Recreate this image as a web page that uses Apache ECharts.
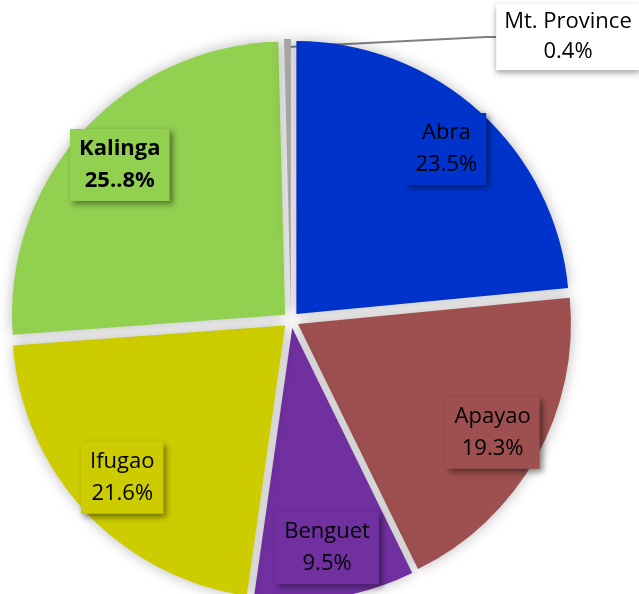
<!DOCTYPE html>
<html>
<head>
<meta charset="utf-8">
<script src="https://cdn.jsdelivr.net/npm/echarts@6/dist/echarts.min.js"></script>
<style>
  html, body { margin: 0; padding: 0; background: #ffffff; }
  #chart { width: 639px; height: 594px; }
</style>
</head>
<body>
<div id="chart"></div>
<script>
const categories = ['Abra', 'Apayao', 'Benguet', 'Ifugao', 'Kalinga', 'Mt. Province'];
const values = [23.5, 19.3, 9.5, 21.6, 25.8, 0.4];
const valueLabels = ['23.5%', '19.3%', '9.5%', '21.6%', '25..8%', '0.4%'];
const colors = ['#0033CC', '#9E5050', '#7030A0', '#CCCC00', '#92D050', '#A5A5A5'];

const FONT = '"Open Sans", sans-serif';
const CX = 291, CY = 320, R = 273;
const OUTSIDE_LABEL = 'Mt. Province';

const mainData = categories.map((name, i) => ({
  name: name,
  value: values[i],
  selected: true,
  itemStyle: { color: colors[i] }
}));

const labelData = categories.map((name, i) => {
  const isOut = name === OUTSIDE_LABEL;
  const item = {
    name: name,
    value: values[i],
    selected: !isOut,
    itemStyle: { color: 'rgba(0,0,0,0)' },
    label: {
      show: true,
      formatter: '{b}\n' + valueLabels[i],
      backgroundColor: colors[i],
      fontWeight: name === 'Kalinga' ? 'bold' : 'normal'
    },
    labelLine: { show: false }
  };
  if (isOut) {
    item.label = {
      show: true,
      position: 'outside',
      formatter: '{b}\n' + valueLabels[i],
      backgroundColor: '#ffffff',
      lineHeight: 30,
      padding: [3, 8, 3, 8],
      shadowColor: 'rgba(0,0,0,0.35)',
      shadowBlur: 6,
      shadowOffsetX: 0,
      shadowOffsetY: 3
    };
    item.labelLine = {
      show: true,
      length: 10,
      length2: 10,
      lineStyle: { color: '#7F7F7F', width: 2 }
    };
  }
  return item;
});

const chart = echarts.init(document.getElementById('chart'), null, { renderer: 'canvas' });
chart.setOption({
  backgroundColor: '#ffffff',
  animation: false,
  series: [
    {
      type: 'pie',
      center: [CX, CY],
      radius: [0, R],
      startAngle: 90,
      clockwise: true,
      selectedMode: 'multiple',
      selectedOffset: 8,
      silent: true,
      itemStyle: {
        borderWidth: 0,
        shadowBlur: 14,
        shadowColor: 'rgba(0,0,0,0.28)'
      },
      select: { itemStyle: { borderWidth: 0 } },
      emphasis: { disabled: true },
      label: { show: false },
      labelLine: { show: false },
      data: mainData
    },
    {
      type: 'pie',
      center: [CX, CY],
      radius: [167, R],
      startAngle: 90,
      clockwise: true,
      selectedMode: 'multiple',
      selectedOffset: 8,
      avoidLabelOverlap: false,
      silent: true,
      itemStyle: { color: 'rgba(0,0,0,0)', borderWidth: 0 },
      select: { itemStyle: { color: 'rgba(0,0,0,0)', borderWidth: 0 } },
      emphasis: { disabled: true },
      label: {
        position: 'inside',
        color: '#000000',
        fontFamily: FONT,
        fontSize: 22,
        lineHeight: 32,
        align: 'center',
        padding: [4, 9, 4, 9],
        shadowColor: 'rgba(0,0,0,0.45)',
        shadowBlur: 6,
        shadowOffsetX: 3,
        shadowOffsetY: 3
      },
      labelLayout: function (params) {
        if (params.dataIndex === categories.indexOf(OUTSIDE_LABEL)) {
          return { x: 568, y: 37, align: 'center', verticalAlign: 'middle' };
        }
      },
      data: labelData
    }
  ]
});
</script>
</body>
</html>
